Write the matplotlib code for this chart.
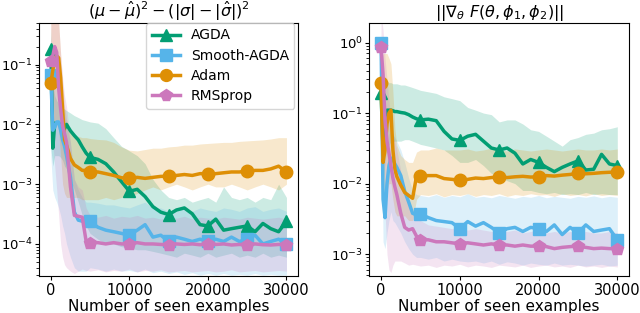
import matplotlib
matplotlib.use("Agg")
import matplotlib.pyplot as plt
import numpy as np

# number of seen examples
steps = [0, 250, 500, 750, 1000, 1250, 1500, 1750, 2000, 2500, 3000, 3500, 4000, 4500,
         5000, 6000, 7000, 8000, 9000, 10000, 11000, 12000, 13000, 14000, 15000, 16000,
         17000, 18000, 19000, 20000, 21000, 22000, 23000, 24000, 25000, 26000, 27000,
         28000, 29000, 30000]

labels = ["AGDA", "Smooth-AGDA", "Adam", "RMSprop"]
colors = ["#029e73", "#56b4e9", "#de8f05", "#cc78bc"]
markers = ["^", "s", "o", "p"]

# ---- left panel: (mu - mu_hat)^2 - (|sigma| - |sigma_hat|)^2 ----
l_agda = [0.18, 0.004, 0.0105, 0.0105, 0.0105, 0.0098, 0.0092, 0.0085, 0.0100, 0.0078,
          0.0065, 0.0055, 0.0042, 0.0033, 0.0028, 0.0026, 0.0022, 0.0016, 0.0011, 0.00076,
          0.00082, 0.00062, 0.00042, 0.00034, 0.00031, 0.00037, 0.00040, 0.00032, 0.00021,
          0.00020, 0.00026, 0.00017, 0.00018, 0.00019, 0.00020, 0.00016, 0.00022, 0.00018,
          0.00016, 0.00024]
l_agda_hi = [0.4, 0.05, 0.03, 0.025, 0.022, 0.02, 0.019, 0.018, 0.017, 0.0155, 0.014, 0.013,
             0.012, 0.0115, 0.011, 0.0105, 0.0085, 0.006, 0.0043, 0.0036, 0.003, 0.0022,
             0.0012, 0.0008, 0.0006, 0.00055, 0.0006, 0.0005, 0.00055, 0.0006, 0.0005, 0.0009,
             0.0006, 0.00055, 0.0006, 0.0005, 0.0006, 0.00055, 0.001, 0.0006]
l_agda_lo = [0.004, 0.002, 0.003, 0.003, 0.003, 0.0028, 0.0025, 0.002, 0.0018, 0.0012, 0.0008,
             0.0005, 0.0003, 0.0002, 0.00015, 0.00012, 0.0001, 0.0001, 9e-5, 8.5e-5, 8e-5, 8e-5,
             7.5e-5, 7e-5, 6.5e-5, 6e-5, 7e-5, 6.5e-5, 6e-5, 7e-5, 6e-5, 6.5e-5, 7e-5, 6e-5,
             6.5e-5, 6e-5, 7e-5, 6e-5, 6.5e-5, 6e-5]

l_smooth = [0.067, 0.008, 0.009, 0.011, 0.011, 0.008, 0.0055, 0.0043, 0.003, 0.0013, 0.00034,
            0.00025, 0.00024, 0.00024, 0.00024, 0.00019, 0.00017, 0.00016, 0.00015, 0.00014,
            0.00017, 0.00021, 0.00013, 0.00014, 0.00011, 0.00013, 0.00012, 0.00011, 0.00012,
            0.00011, 0.00012, 0.00011, 0.00013, 0.00011, 0.00012, 0.00014, 0.0001, 0.00011,
            0.00012, 0.0001]
l_smooth_hi = [0.3, 0.05, 0.04, 0.04, 0.035, 0.025, 0.018, 0.014, 0.01, 0.005, 0.0012, 0.0008,
               0.0006, 0.0005, 0.0005, 0.00048, 0.00045, 0.00045, 0.00042, 0.0004, 0.00045,
               0.0005, 0.0004, 0.0004, 0.00035, 0.0004, 0.00038, 0.00035, 0.0004, 0.00037,
               0.00035, 0.0004, 0.00038, 0.00035, 0.0004, 0.00042, 0.00035, 0.00038, 0.0004,
               0.00035]
l_smooth_lo = [0.003, 0.0008, 0.0006, 0.0005, 0.0004, 0.0003, 0.0002, 0.00015, 0.0001, 6e-5,
               4e-5, 3.5e-5, 3.5e-5, 3.5e-5, 4e-5, 3.8e-5, 3.5e-5, 3.8e-5, 3.5e-5, 3.6e-5,
               3.4e-5, 3.8e-5, 3.3e-5, 3.5e-5, 3.2e-5, 3.4e-5, 3.1e-5, 3.3e-5, 3e-5, 3.2e-5,
               3e-5, 3.2e-5, 3e-5, 3.1e-5, 3e-5, 3.2e-5, 3e-5, 3.1e-5, 3e-5, 3e-5]

l_adam = [0.049, 0.08, 0.12, 0.14, 0.13, 0.06, 0.018, 0.0055, 0.0045, 0.0027, 0.0021, 0.0019,
          0.0017, 0.0017, 0.0016, 0.0016, 0.0015, 0.0014, 0.00128, 0.00125, 0.0013, 0.00125,
          0.0013, 0.00135, 0.00135, 0.0014, 0.00145, 0.0014, 0.0015, 0.0015, 0.0015, 0.00155,
          0.0016, 0.0016, 0.00165, 0.0017, 0.0017, 0.0018, 0.002, 0.0016]
l_adam_hi = [0.5, 0.6, 0.8, 0.8, 0.5, 0.15, 0.05, 0.02, 0.012, 0.0075, 0.0065, 0.0063, 0.006,
             0.006, 0.0058, 0.0056, 0.0055, 0.005, 0.0042, 0.0037, 0.0036, 0.0038, 0.004,
             0.004, 0.0042, 0.0043, 0.0045, 0.0045, 0.0047, 0.0048, 0.0049, 0.005, 0.005,
             0.0052, 0.0053, 0.0054, 0.0055, 0.0057, 0.006, 0.006]
l_adam_lo = [0.005, 0.005, 0.01, 0.01, 0.008, 0.003, 0.001, 0.0007, 0.0006, 0.0006, 0.0006,
             0.0006, 0.00055, 0.00055, 0.00055, 0.00055, 0.0006, 0.00055, 0.0006, 0.0006,
             0.0007, 0.0008, 0.0009, 0.0008, 0.0009, 0.001, 0.0009, 0.0008, 0.0009, 0.001,
             0.0009, 0.0009, 0.001, 0.0009, 0.0008, 0.0009, 0.001, 0.0009, 0.0008, 0.001]

l_rms = [0.115, 0.14, 0.2, 0.16, 0.04, 0.018, 0.0093, 0.007, 0.005, 0.0009, 0.0003, 0.00029,
         0.00028, 0.00011, 0.000105, 0.000105, 0.0001, 0.000105, 0.0001, 0.0001, 0.000105,
         0.0001, 0.0001, 0.000098, 0.000096, 0.0001, 0.000098, 0.0001, 0.000097, 0.0001,
         0.000098, 0.0001, 0.000096, 0.000098, 0.000096, 0.0001, 0.000097, 0.000096,
         0.000098, 0.000097]
l_rms_hi = [0.5, 0.7, 1.0, 1.0, 0.5, 0.15, 0.06, 0.03, 0.02, 0.005, 0.0012, 0.0009, 0.0008,
            0.0004, 0.0003, 0.00028, 0.0003, 0.00027, 0.00029, 0.00028, 0.0003, 0.00027,
            0.00028, 0.00026, 0.00028, 0.00027, 0.00029, 0.00026, 0.00028, 0.00027, 0.00026,
            0.00028, 0.00027, 0.00026, 0.00028, 0.00027, 0.00026, 0.00027, 0.00028, 0.00026]
l_rms_lo = [0.01, 0.005, 0.002, 0.0008, 0.0003, 0.0001, 6e-5, 4.5e-5, 4e-5, 3.5e-5, 3.2e-5,
            3.5e-5, 3.8e-5, 3.6e-5, 3.5e-5, 3.7e-5, 3.4e-5, 3.6e-5, 3.5e-5, 3.8e-5, 3.4e-5,
            3.6e-5, 3.5e-5, 3.7e-5, 3.4e-5, 3.5e-5, 3.6e-5, 3.4e-5, 3.5e-5, 3.6e-5, 3.4e-5,
            3.5e-5, 3.7e-5, 3.4e-5, 3.5e-5, 3.6e-5, 3.4e-5, 3.5e-5, 3.6e-5, 3.5e-5]

# ---- right panel: ||grad_theta F(theta, phi1, phi2)|| ----
r_agda = [0.19, 0.03, 0.09, 0.11, 0.11, 0.11, 0.108, 0.105, 0.105, 0.102, 0.1, 0.095, 0.088,
          0.083, 0.08, 0.082, 0.078, 0.055, 0.043, 0.041, 0.047, 0.05, 0.04, 0.032, 0.03,
          0.032, 0.027, 0.019, 0.022, 0.02, 0.017, 0.0148, 0.017, 0.019, 0.021, 0.0156, 0.016,
          0.026, 0.019, 0.018]
r_agda_hi = [0.5, 0.35, 0.3, 0.28, 0.27, 0.27, 0.26, 0.26, 0.26, 0.25, 0.25, 0.24, 0.23, 0.22,
             0.21, 0.2, 0.19, 0.17, 0.16, 0.15, 0.12, 0.11, 0.1, 0.095, 0.075, 0.08, 0.08, 0.07,
             0.058, 0.055, 0.047, 0.04, 0.034, 0.042, 0.045, 0.05, 0.052, 0.058, 0.06, 0.064]
r_agda_lo = [0.05, 0.01, 0.02, 0.03, 0.035, 0.04, 0.04, 0.04, 0.04, 0.04, 0.042, 0.042, 0.04,
             0.038, 0.036, 0.034, 0.032, 0.03, 0.025, 0.02, 0.02, 0.022, 0.018, 0.014, 0.012,
             0.011, 0.01, 0.008, 0.008, 0.0075, 0.0072, 0.0075, 0.007, 0.0072, 0.007, 0.0075,
             0.007, 0.0072, 0.007, 0.007]

r_smooth = [1.0, 0.006, 0.0033, 0.01, 0.018, 0.023, 0.022, 0.019, 0.017, 0.013, 0.0078, 0.0055,
            0.0038, 0.0036, 0.0037, 0.0033, 0.003, 0.0029, 0.0028, 0.0023, 0.0029, 0.0025,
            0.0028, 0.0024, 0.002, 0.0023, 0.0024, 0.0021, 0.0024, 0.0023, 0.0021, 0.0026,
            0.0019, 0.0024, 0.002, 0.0026, 0.0021, 0.0022, 0.0023, 0.0016]
r_smooth_hi = [1.5, 0.05, 0.02, 0.03, 0.05, 0.06, 0.05, 0.045, 0.04, 0.03, 0.02, 0.012, 0.008,
               0.007, 0.0068, 0.0065, 0.007, 0.0064, 0.0068, 0.0065, 0.0072, 0.0064, 0.0066,
               0.0063, 0.0068, 0.0065, 0.0062, 0.0066, 0.0064, 0.0068, 0.0063, 0.0066, 0.0064,
               0.0062, 0.0066, 0.0064, 0.0067, 0.0063, 0.0066, 0.0064]
r_smooth_lo = [0.3, 0.0015, 0.0012, 0.002, 0.003, 0.004, 0.003, 0.0028, 0.0025, 0.002, 0.0015,
               0.0012, 0.001, 0.0009, 0.0009, 0.00085, 0.0009, 0.0008, 0.00085, 0.0008,
               0.00078, 0.0008, 0.00075, 0.0008, 0.00072, 0.00078, 0.00075, 0.0007, 0.00075,
               0.00072, 0.0007, 0.00075, 0.0007, 0.00072, 0.0007, 0.00068, 0.0007, 0.00072,
               0.00068, 0.0007]

r_adam = [0.27, 0.02, 0.03, 0.07, 0.1, 0.11, 0.03, 0.016, 0.0126, 0.0095, 0.0075, 0.0068,
          0.0062, 0.0128, 0.013, 0.013, 0.013, 0.0118, 0.0115, 0.0112, 0.0115, 0.012, 0.0118,
          0.0122, 0.0125, 0.0122, 0.0125, 0.0127, 0.0124, 0.0125, 0.013, 0.0128, 0.0132,
          0.0135, 0.014, 0.0138, 0.014, 0.0143, 0.0145, 0.0146]
r_adam_hi = [0.6, 0.7, 0.7, 0.7, 0.6, 0.5, 0.2, 0.06, 0.035, 0.025, 0.022, 0.02, 0.02, 0.028,
             0.03, 0.03, 0.032, 0.03, 0.03, 0.03, 0.031, 0.029, 0.03, 0.032, 0.03, 0.029, 0.031,
             0.03, 0.029, 0.03, 0.031, 0.03, 0.029, 0.03, 0.031, 0.03, 0.03, 0.031, 0.03, 0.031]
r_adam_lo = [0.05, 0.005, 0.005, 0.008, 0.01, 0.01, 0.006, 0.004, 0.0035, 0.0035, 0.0035,
             0.003, 0.003, 0.006, 0.007, 0.0068, 0.0072, 0.0065, 0.007, 0.0068, 0.0072, 0.0066,
             0.007, 0.0068, 0.0072, 0.0066, 0.007, 0.0068, 0.0072, 0.0069, 0.007, 0.0066,
             0.0072, 0.0068, 0.007, 0.0067, 0.0072, 0.0068, 0.007, 0.0068]

r_rms = [0.85, 0.35, 0.08, 0.04, 0.027, 0.018, 0.012, 0.009, 0.007, 0.0038, 0.0024, 0.0022,
         0.0023, 0.0018, 0.0016, 0.0016, 0.0015, 0.0015, 0.00145, 0.0014, 0.00145, 0.0014,
         0.00135, 0.0014, 0.00135, 0.00135, 0.0013, 0.00135, 0.0013, 0.0013, 0.00128, 0.0012,
         0.00125, 0.00128, 0.0013, 0.00125, 0.0012, 0.00122, 0.0012, 0.0012]
r_rms_hi = [2.5, 1.5, 0.6, 0.3, 0.15, 0.08, 0.05, 0.04, 0.03, 0.015, 0.008, 0.005, 0.004,
            0.0035, 0.003, 0.0026, 0.0025, 0.0024, 0.0023, 0.0024, 0.0022, 0.0023, 0.0022,
            0.0021, 0.0022, 0.0021, 0.0022, 0.002, 0.0021, 0.0022, 0.002, 0.0021, 0.002,
            0.0021, 0.002, 0.0021, 0.002, 0.002, 0.0021, 0.002]
r_rms_lo = [0.3, 0.05, 0.004, 0.001, 0.0006, 0.00055, 0.0007, 0.0008, 0.0008, 0.0008, 0.00075,
            0.0007, 0.00072, 0.0007, 0.00068, 0.0007, 0.00065, 0.0007, 0.00068, 0.00072,
            0.00066, 0.0007, 0.00068, 0.00065, 0.0007, 0.00068, 0.00066, 0.0007, 0.00065,
            0.00068, 0.0007, 0.00066, 0.00068, 0.00065, 0.0007, 0.00066, 0.00068, 0.00065,
            0.00068, 0.00066]

left = [(l_agda, l_agda_lo, l_agda_hi), (l_smooth, l_smooth_lo, l_smooth_hi),
        (l_adam, l_adam_lo, l_adam_hi), (l_rms, l_rms_lo, l_rms_hi)]
right = [(r_agda, r_agda_lo, r_agda_hi), (r_smooth, r_smooth_lo, r_smooth_hi),
         (r_adam, r_adam_lo, r_adam_hi), (r_rms, r_rms_lo, r_rms_hi)]

plt.rcParams['font.size'] = 11
plt.rcParams['xtick.major.size'] = 3
plt.rcParams['ytick.major.size'] = 3
plt.rcParams['xtick.major.pad'] = 2
plt.rcParams['ytick.major.pad'] = 1.5
plt.rcParams['xtick.labelsize'] = 10.5
plt.rcParams['ytick.labelsize'] = 9.5

x = np.array(steps)
mark_idx = [i for i, s in enumerate(steps) if s % 5000 == 0]


def plot_panel(ax, series, title, ylim):
    for (mean, lo, hi), lab, c, m in zip(series, labels, colors, markers):
        ax.fill_between(x, lo, hi, color=c, alpha=0.2, linewidth=0)
        ax.plot(x, mean, color=c, marker=m, markevery=mark_idx, lw=2.5, ms=9, label=lab)
    ax.set_yscale('log')
    ax.set_ylim(*ylim)
    ax.set_xticks([0, 10000, 20000, 30000])
    ax.set_xlabel("Number of seen examples", labelpad=1)
    ax.set_title(title, fontsize=11.5, pad=4)


fig = plt.figure(figsize=(6.4, 3.13), dpi=100)
ax1 = fig.add_axes([0.061, 0.118, 0.405, 0.809])
ax2 = fig.add_axes([0.577, 0.118, 0.406, 0.809])

plot_panel(ax1, left, r'$(\mu - \hat{\mu})^2 - (|\sigma| - |\hat{\sigma}|)^2$', (2.9e-5, 0.5))
plot_panel(ax2, right, r'$||\nabla_\theta\ F(\theta, \phi_1, \phi_2)||$', (4.9e-4, 1.9))
ax1.legend(loc='upper right', bbox_to_anchor=(0.985, 1.0), borderaxespad=0,
           fontsize=10, labelspacing=0.45, markerscale=0.95)

fig.savefig("out.png", dpi=100)
